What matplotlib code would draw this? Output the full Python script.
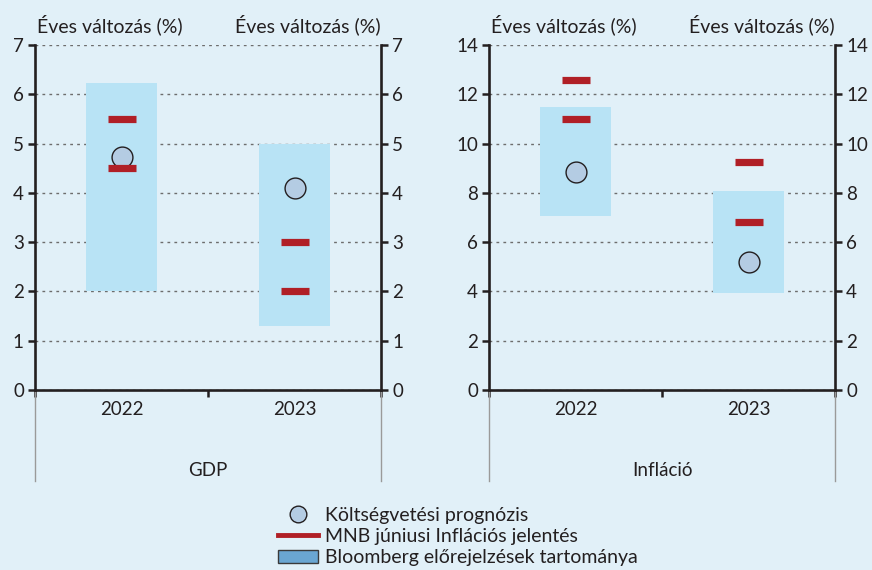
import matplotlib
matplotlib.use('Agg')
import matplotlib.pyplot as plt
from matplotlib.lines import Line2D
from matplotlib.patches import Patch

# adatok
evek = ['2022', '2023']
panelek = ['GDP', 'Infláció']
y_cimke = 'Éves változás (%)'

gdp_bloomberg_also = [2.0, 1.3]
gdp_bloomberg_felso = [6.23, 5.0]
gdp_mnb_also = [4.5, 2.0]
gdp_mnb_felso = [5.5, 3.0]
gdp_koltsegvetes = [4.72, 4.1]

inf_bloomberg_also = [7.05, 3.95]
inf_bloomberg_felso = [11.47, 8.06]
inf_mnb_also = [11.0, 6.83]
inf_mnb_felso = [12.57, 9.24]
inf_koltsegvetes = [8.86, 5.2]

gdp_ylim = (0, 7)
gdp_yticks = list(range(0, 8))
inf_ylim = (0, 14)
inf_yticks = list(range(0, 15, 2))

leg_kor = 'Költségvetési prognózis'
leg_mnb = 'MNB júniusi Inflációs jelentés'
leg_bloomberg = 'Bloomberg előrejelzések tartománya'

HATTER = '#E1F0F8'
DOBOZ = '#B8E3F5'
PIROS = '#B01F26'
KOR = '#B4CCE3'
SZOVEG = '#231F20'

plt.rcParams['font.family'] = ['Lato', 'DejaVu Sans']

fig = plt.figure(figsize=(8.72, 5.70), dpi=100)
fig.patch.set_facecolor(HATTER)

W, H = 872, 570


def panel(bal, jobb, also, felso, mnb_a, mnb_f, kor, ylim, yticks, nev):
    ax = fig.add_axes([bal / W, 1 - 390 / H, (jobb - bal) / W, 345 / H])
    ax.set_facecolor(HATTER)
    x = list(range(len(evek)))
    ax.bar(x, [f - a for a, f in zip(also, felso)], bottom=also, width=0.41,
           color=DOBOZ, zorder=2)
    ax.plot(x, kor, ls='none', marker='o', ms=15, mfc=KOR, mec=SZOVEG, mew=1.0, zorder=3)
    ax.plot(x, mnb_a, ls='none', marker='_', ms=19.5, mew=5.2, color=PIROS, zorder=4)
    ax.plot(x, mnb_f, ls='none', marker='_', ms=19.5, mew=5.2, color=PIROS, zorder=4)

    ax.set_xlim(-0.5, len(evek) - 0.5)
    ax.set_ylim(*ylim)
    ax.set_yticks(yticks)
    ax.yaxis.grid(True, linestyle=(0, (2, 3)), color='#6d6d6d', lw=1.0, zorder=1)
    ax.set_axisbelow(True)

    ax.set_xticks([-0.5, 0.5, 1.5])
    ax.set_xticklabels([])
    ax.set_xticks(x, minor=True)
    ax.set_xticklabels(evek, minor=True)
    ax.tick_params(axis='x', which='major', direction='out', length=5, width=1.8, color=SZOVEG)
    ax.tick_params(axis='x', which='minor', length=0, pad=8, labelsize=13.5, labelcolor=SZOVEG)
    ax.tick_params(axis='y', direction='out', length=5, width=1.8, color=SZOVEG,
                   left=True, right=True, labelleft=True, labelright=True,
                   labelsize=13.5, labelcolor=SZOVEG, pad=3)

    for s in ['left', 'right', 'bottom']:
        ax.spines[s].set_linewidth(1.9)
        ax.spines[s].set_color(SZOVEG)
    ax.spines['top'].set_visible(False)

    # elválasztó vonalak
    for xx in [0, 1]:
        ax.plot([xx, xx], [0, -0.264], transform=ax.transAxes, clip_on=False,
                color='#9a9a9a', lw=1.0)
    ax.text(0.5, -0.232, nev, transform=ax.transAxes, ha='center', va='center',
            fontsize=13.5, color=SZOVEG)
    ax.text(0.005, 1.058, y_cimke, transform=ax.transAxes, ha='left', va='center',
            fontsize=14, color=SZOVEG)
    ax.text(1.0, 1.058, y_cimke, transform=ax.transAxes, ha='right', va='center',
            fontsize=14, color=SZOVEG)
    return ax


panel(35, 381, gdp_bloomberg_also, gdp_bloomberg_felso, gdp_mnb_also, gdp_mnb_felso,
      gdp_koltsegvetes, gdp_ylim, gdp_yticks, panelek[0])
panel(489, 835, inf_bloomberg_also, inf_bloomberg_felso, inf_mnb_also, inf_mnb_felso,
      inf_koltsegvetes, inf_ylim, inf_yticks, panelek[1])

handles = [
    Line2D([], [], ls='none', marker='o', ms=12, mfc=KOR, mec=SZOVEG, mew=1.0),
    Line2D([], [], color=PIROS, lw=3.5),
    Patch(facecolor='#6AA6D2', edgecolor='#3a3a3a', lw=1.0),
]
fig.legend(handles, [leg_kor, leg_mnb, leg_bloomberg], loc='upper center',
           bbox_to_anchor=(458 / W, 1 - 497 / H), frameon=False, fontsize=14,
           labelcolor=SZOVEG, handlelength=2.05, handletextpad=0.36, labelspacing=0.22,
           borderpad=0)

fig.savefig('out.png', dpi=100, facecolor=HATTER)
